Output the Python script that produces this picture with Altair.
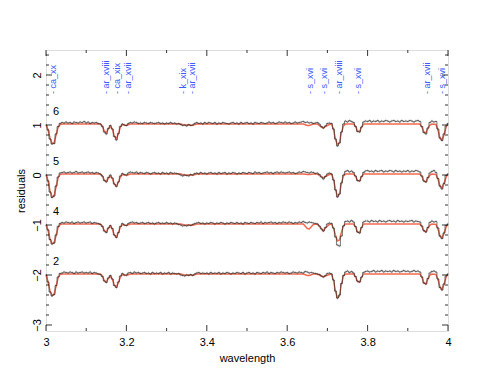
import altair as alt
import pandas as pd

# ---- data -------------------------------------------------------------
WL = [round(3.0 + 0.005 * i, 3) for i in range(201)]  # bin centres (Å)

PANELS = ["6", "5", "4", "2"]
SHIFTS = [0, -1, -2, -3]

P6 = [1.00,0.90,0.72,0.62,0.63,0.82,0.97,1.03,1.05,1.04,1.06,1.04,1.05,1.03,1.06,1.05,1.04,1.06,1.05,1.07,
      1.04,1.06,1.03,1.05,1.04,1.05,1.03,1.02,0.97,0.86,0.82,0.93,0.99,0.92,0.77,0.70,0.83,0.97,1.02,1.00,
      0.99,1.03,1.05,1.04,1.06,1.05,1.03,1.04,1.03,1.05,1.04,1.03,1.05,1.04,1.03,1.04,1.05,1.03,1.04,1.02,
      1.04,1.03,1.05,1.03,1.04,1.02,1.03,1.01,0.99,1.00,0.98,1.01,0.99,1.00,1.03,1.05,1.03,1.04,1.02,1.05,
      1.03,1.05,1.04,1.03,1.05,1.02,1.04,1.03,1.05,1.04,1.03,1.02,1.04,1.05,1.03,1.04,1.02,1.05,1.03,1.04,
      1.05,1.03,1.04,1.02,1.05,1.04,1.03,1.05,1.04,1.03,1.04,1.06,1.04,1.05,1.03,1.04,1.06,1.05,1.04,1.06,
      1.04,1.05,1.03,1.04,1.06,1.04,1.05,1.06,1.07,1.05,1.06,1.04,1.05,1.03,1.04,1.05,1.02,0.97,0.94,0.98,
      1.03,1.04,1.03,0.92,0.72,0.58,0.64,0.86,1.02,1.08,1.06,1.09,1.07,1.05,0.97,0.87,0.86,0.96,1.06,1.08,
      1.07,1.09,1.06,1.08,1.07,1.09,1.06,1.08,1.07,1.09,1.08,1.06,1.08,1.09,1.07,1.08,1.06,1.09,1.07,1.08,
      1.07,1.09,1.08,1.06,1.08,1.09,1.07,0.97,0.85,0.82,0.94,1.05,1.08,1.06,1.07,0.92,0.74,0.69,0.82,0.98,
      1.03]
P5 = [1.00,0.88,0.66,0.55,0.58,0.78,0.96,1.04,1.05,1.06,1.04,1.05,1.06,1.04,1.05,1.07,1.04,1.05,1.06,1.04,
      1.05,1.06,1.04,1.05,1.03,1.05,1.04,1.02,0.98,0.89,0.86,0.95,1.00,0.94,0.82,0.77,0.86,0.98,1.03,1.01,
      1.00,1.04,1.06,1.05,1.04,1.06,1.03,1.05,1.04,1.03,1.05,1.04,1.02,1.04,1.05,1.03,1.04,1.02,1.05,1.03,
      1.04,1.02,1.05,1.03,1.04,1.03,1.02,1.00,0.98,1.00,0.99,0.98,1.01,1.00,1.03,1.04,1.02,1.05,1.03,1.04,
      1.02,1.04,1.05,1.03,1.04,1.02,1.05,1.03,1.04,1.05,1.02,1.04,1.03,1.05,1.04,1.02,1.04,1.03,1.05,1.04,
      1.03,1.05,1.04,1.03,1.06,1.04,1.05,1.03,1.04,1.05,1.06,1.04,1.05,1.03,1.05,1.06,1.04,1.06,1.05,1.04,
      1.05,1.06,1.04,1.05,1.03,1.04,1.06,1.05,1.07,1.06,1.05,1.04,1.06,1.05,1.03,1.04,1.01,0.96,0.92,0.97,
      1.02,1.04,1.02,0.90,0.70,0.56,0.62,0.84,1.00,1.07,1.09,1.06,1.08,1.05,0.98,0.89,0.88,0.97,1.05,1.08,
      1.09,1.07,1.08,1.06,1.09,1.07,1.08,1.09,1.06,1.08,1.07,1.09,1.08,1.06,1.09,1.07,1.08,1.06,1.08,1.07,
      1.09,1.06,1.08,1.07,1.09,1.08,1.06,0.98,0.88,0.86,0.95,1.04,1.07,1.09,1.05,0.93,0.78,0.72,0.83,0.99,
      1.02]
P4 = [1.00,0.90,0.71,0.62,0.64,0.80,0.97,1.03,1.05,1.04,1.06,1.05,1.04,1.06,1.03,1.05,1.06,1.04,1.05,1.06,
      1.04,1.05,1.06,1.03,1.05,1.04,1.03,1.01,0.97,0.88,0.85,0.94,0.99,0.93,0.80,0.75,0.85,0.97,1.03,1.00,
      0.99,1.03,1.05,1.06,1.04,1.05,1.03,1.04,1.05,1.03,1.04,1.05,1.03,1.04,1.02,1.04,1.05,1.03,1.04,1.03,
      1.05,1.03,1.04,1.02,1.04,1.03,1.01,1.00,0.98,0.99,0.98,1.00,0.99,1.01,1.03,1.04,1.05,1.03,1.04,1.02,
      1.04,1.03,1.05,1.04,1.02,1.04,1.03,1.05,1.04,1.02,1.04,1.03,1.05,1.04,1.03,1.05,1.03,1.04,1.02,1.05,
      1.04,1.03,1.05,1.04,1.03,1.05,1.04,1.06,1.03,1.05,1.04,1.05,1.06,1.04,1.05,1.03,1.05,1.04,1.06,1.05,
      1.04,1.06,1.05,1.03,1.05,1.04,1.06,1.05,1.07,1.05,1.04,1.06,1.05,1.04,1.03,1.02,0.98,0.92,0.88,0.95,
      1.02,1.04,1.03,0.94,0.76,0.60,0.58,0.78,0.98,1.07,1.08,1.06,1.09,1.06,0.97,0.86,0.84,0.95,1.06,1.08,
      1.08,1.06,1.09,1.07,1.08,1.06,1.09,1.07,1.08,1.06,1.08,1.09,1.07,1.08,1.06,1.09,1.07,1.08,1.06,1.08,
      1.07,1.08,1.09,1.06,1.08,1.07,1.06,0.98,0.89,0.86,0.95,1.05,1.08,1.06,1.07,0.94,0.78,0.73,0.84,0.99,
      1.02]
P2 = [1.00,0.86,0.66,0.58,0.61,0.79,0.96,1.03,1.04,1.06,1.05,1.04,1.06,1.05,1.03,1.06,1.04,1.05,1.06,1.04,
      1.05,1.04,1.06,1.03,1.05,1.04,1.02,1.01,0.97,0.88,0.85,0.94,0.99,0.92,0.79,0.75,0.86,0.98,1.03,1.00,
      1.00,1.04,1.05,1.03,1.06,1.04,1.05,1.03,1.04,1.05,1.03,1.04,1.02,1.05,1.03,1.04,1.03,1.05,1.02,1.04,
      1.03,1.05,1.02,1.04,1.03,1.02,1.03,1.00,0.99,0.98,1.00,0.99,1.01,0.99,1.02,1.04,1.05,1.03,1.04,1.03,
      1.04,1.02,1.05,1.03,1.04,1.03,1.05,1.02,1.04,1.03,1.05,1.04,1.02,1.04,1.03,1.05,1.04,1.03,1.05,1.02,
      1.04,1.05,1.03,1.04,1.02,1.05,1.04,1.03,1.05,1.04,1.06,1.03,1.05,1.04,1.03,1.05,1.04,1.06,1.05,1.04,
      1.05,1.03,1.04,1.06,1.05,1.04,1.06,1.05,1.04,1.07,1.06,1.04,1.05,1.04,1.03,1.02,1.01,0.98,0.96,0.99,
      1.03,1.04,1.02,0.90,0.68,0.54,0.60,0.83,0.99,1.06,1.08,1.05,1.07,1.04,0.97,0.88,0.86,0.96,1.05,1.07,
      1.08,1.06,1.07,1.09,1.06,1.08,1.07,1.09,1.06,1.08,1.07,1.08,1.06,1.09,1.07,1.08,1.06,1.07,1.09,1.07,
      1.08,1.06,1.07,1.09,1.07,1.08,1.06,0.96,0.84,0.82,0.93,1.04,1.07,1.08,1.06,0.92,0.75,0.70,0.82,0.98,
      1.02]
ERR = 0.025

MODEL_WL = [3.000,3.005,3.010,3.015,3.020,3.025,3.030,3.035,3.040,
            3.135,3.140,3.145,3.150,3.155,3.160,3.165,3.170,3.175,3.180,3.185,3.190,3.200,3.210,
            3.335,3.345,3.355,3.365,3.375,
            3.640,3.650,3.655,3.665,
            3.675,3.685,3.690,3.695,3.705,
            3.710,3.715,3.720,3.725,3.730,3.735,3.740,3.745,
            3.765,3.770,3.775,3.780,3.785,3.790,
            3.930,3.935,3.940,3.945,3.950,3.955,3.960,3.970,3.975,3.980,3.985,3.990,3.995,4.000]
M6 = [1.00,0.91,0.74,0.63,0.64,0.80,0.95,1.01,1.02,
      1.02,0.98,0.88,0.84,0.92,0.98,0.92,0.78,0.72,0.82,0.96,1.01,0.99,1.02,
      1.02,1.00,1.00,0.995,1.02,
      1.02,0.99,0.99,1.02,
      1.02,0.96,0.94,0.97,1.01,
      1.02,0.92,0.72,0.60,0.65,0.85,0.98,1.02,
      1.02,0.97,0.88,0.87,0.96,1.02,
      1.02,0.96,0.86,0.84,0.93,1.00,1.02,1.01,0.90,0.74,0.70,0.80,0.95,1.02]
M5 = [1.00,0.89,0.68,0.56,0.58,0.76,0.94,1.01,1.02,
      1.02,0.98,0.90,0.87,0.93,0.98,0.93,0.82,0.78,0.85,0.96,1.01,0.99,1.02,
      1.02,1.00,1.00,0.995,1.02,
      1.02,1.01,1.01,1.02,
      1.02,0.97,0.94,0.97,1.01,
      1.02,0.92,0.72,0.57,0.62,0.84,0.98,1.02,
      1.02,0.97,0.89,0.88,0.96,1.02,
      1.02,0.97,0.88,0.86,0.94,1.00,1.02,1.01,0.92,0.78,0.74,0.83,0.95,1.02]
M4 = [1.00,0.90,0.72,0.63,0.64,0.79,0.95,1.01,1.02,
      1.02,0.98,0.89,0.86,0.93,0.98,0.92,0.80,0.76,0.84,0.96,1.01,0.99,1.02,
      1.02,1.00,1.00,0.995,1.02,
      1.02,0.93,0.92,1.01,
      1.02,0.93,0.88,0.94,1.01,
      1.02,0.94,0.80,0.68,0.70,0.86,0.98,1.02,
      1.02,0.96,0.86,0.85,0.95,1.02,
      1.02,0.97,0.88,0.86,0.94,1.00,1.02,1.01,0.92,0.78,0.74,0.83,0.95,1.02]
M2 = [1.00,0.87,0.68,0.59,0.61,0.77,0.94,1.01,1.02,
      1.02,0.98,0.89,0.86,0.93,0.98,0.92,0.80,0.76,0.84,0.96,1.01,0.99,1.02,
      1.02,1.00,1.00,0.995,1.02,
      1.02,0.99,0.99,1.02,
      1.02,0.98,0.96,0.98,1.01,
      1.02,0.90,0.68,0.54,0.58,0.82,0.98,1.02,
      1.02,0.96,0.87,0.86,0.95,1.02,
      1.02,0.96,0.84,0.82,0.92,1.00,1.02,1.01,0.91,0.76,0.71,0.81,0.95,1.02]

LINE_NAMES = ["ca_xx", "ar_xviii", "ca_xix", "ar_xvii", "k_xix", "ar_xvii",
              "s_xvi", "s_xvi", "ar_xviii", "s_xvi", "ar_xvii", "s_xvi"]
LINE_WL = [3.018, 3.150, 3.176, 3.204, 3.342, 3.364,
           3.657, 3.692, 3.729, 3.777, 3.948, 3.986]

X_LABELS = [3.0, 3.2, 3.4, 3.6, 3.8, 4.0]
X_MINOR = [3.1, 3.3, 3.5, 3.7, 3.9]
Y_LABELS = [-3, -2, -1, 0, 1, 2]
Y_MINOR = [round(-3.0 + 0.2 * k, 1) for k in range(28) if (k % 5) != 0]

# ---- tables -----------------------------------------------------------
data_rows, model_rows = [], []
for name, shift, d, m in zip(PANELS, SHIFTS, [P6, P5, P4, P2], [M6, M5, M4, M2]):
    for w, v in zip(WL, d):
        data_rows.append({"panel": name, "wl": w, "y": v + shift,
                          "lo": v + shift - ERR, "hi": v + shift + ERR})
    for w, v in zip(MODEL_WL, m):
        model_rows.append({"panel": name, "wl": w, "y": v + shift})
df_data = pd.DataFrame(data_rows)
df_model = pd.DataFrame(model_rows)
df_lines = pd.DataFrame({"wl": LINE_WL, "label": ["- " + n for n in LINE_NAMES]})
df_panel = pd.DataFrame({"label": PANELS, "y": [s + 1.27 for s in SHIFTS]})

W, H = 402, 281
FONT = "Liberation Sans"
XS = alt.Scale(domain=[3, 4], nice=False, zero=False)
YS = alt.Scale(domain=[-3.12, 2.5], nice=False, zero=False)

X_AXIS = alt.Axis(title="wavelength", values=X_LABELS, format="~g", ticks=False,
                  domain=False, grid=False, labelPadding=5, labelFontSize=11,
                  titleFontSize=11, titleFontWeight="normal", titlePadding=5,
                  labelFlush=False, labelColor="black", titleColor="black",
                  labelFont=FONT, titleFont=FONT)
Y_AXIS = alt.Axis(title="residuals", values=Y_LABELS, format="d", ticks=False,
                  domain=False, grid=False, labelPadding=4, labelFontSize=11,
                  labelAngle=270, labelAlign="center", labelBaseline="bottom",
                  titleFontSize=11, titleFontWeight="normal", titlePadding=5,
                  labelFlush=False, labelColor="black", titleColor="black",
                  labelFont=FONT, titleFont=FONT)


def X(field):
    return alt.X(field, type="quantitative", scale=XS, axis=X_AXIS)


def Y(field):
    return alt.Y(field, type="quantitative", scale=YS, axis=Y_AXIS)


model = alt.Chart(df_model).mark_line(color="#f4694f", strokeWidth=1.5).encode(
    x=X("wl"), y=Y("y"), detail="panel:N",
)
errs = alt.Chart(df_data).mark_rule(color="#666666", strokeWidth=0.6, opacity=0.7).encode(
    x=X("wl"), y=Y("lo"), y2="hi:Q",
)
data = alt.Chart(df_data).mark_line(color="#222222", strokeWidth=0.6, interpolate="step").encode(
    x=X("wl"), y=Y("y"), detail="panel:N",
)
line_labels = alt.Chart(df_lines).mark_text(
    angle=270, align="left", baseline="middle", color="#3d5cff", fontSize=9, font=FONT
).encode(
    x=X("wl"),
    y=alt.datum(1.62, scale=YS, axis=Y_AXIS),
    text="label:N",
)
panel_labels = alt.Chart(df_panel).mark_text(
    align="center", baseline="middle", color="black", fontSize=11, font=FONT
).encode(
    x=alt.datum(3.025, scale=XS, axis=X_AXIS),
    y=Y("y"),
    text="label:N",
)


def xticks(vals, length):
    src = alt.Chart(pd.DataFrame({"wl": vals}))
    bottom = src.mark_rule(color="black", strokeWidth=0.8).encode(
        x=X("wl"), y=alt.value(H), y2=alt.value(H - length))
    top = src.mark_rule(color="black", strokeWidth=0.8).encode(
        x=X("wl"), y=alt.value(0), y2=alt.value(length))
    return [bottom, top]


def yticks(vals, length):
    src = alt.Chart(pd.DataFrame({"y": vals}))
    left = src.mark_rule(color="black", strokeWidth=0.8).encode(
        y=Y("y"), x=alt.value(0), x2=alt.value(length))
    right = src.mark_rule(color="black", strokeWidth=0.8).encode(
        y=Y("y"), x=alt.value(W), x2=alt.value(W - length))
    return [left, right]


ticks = xticks(X_LABELS, 6) + xticks(X_MINOR, 3) + yticks(Y_LABELS, 6) + yticks(Y_MINOR, 3)

chart = alt.layer(model, errs, data, line_labels, panel_labels, *ticks).properties(
    width=W, height=H,
    autosize=alt.AutoSizeParams(type="none"),
    padding={"left": 38, "top": 42, "right": 39, "bottom": 44},
).configure_view(stroke="#333333", strokeWidth=1).configure(font=FONT)

chart.save("out.html", embed_options={"renderer": "svg", "actions": False})
